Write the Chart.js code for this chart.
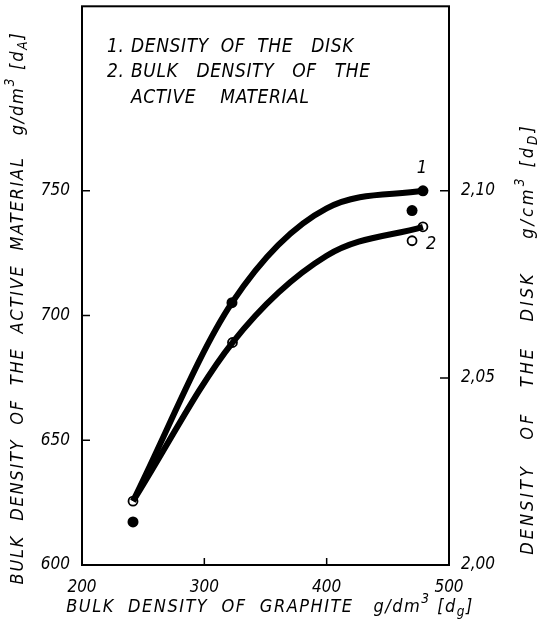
<!DOCTYPE html>
<html>
<head>
<meta charset="utf-8">
<script src="https://cdn.jsdelivr.net/npm/chart.js@4.4.1/dist/chart.umd.min.js"></script>
<style>
  html, body { margin: 0; padding: 0; background: #fff; }
  #wrap { width: 542px; height: 635px; position: relative; }
</style>
</head>
<body>
<div id="wrap"><canvas id="densityChart"></canvas></div>
<script>
// Bulk density of graphite [g/dm3] on the x axis
const xTicks = [200, 300, 400, 500];
const leftTicks = [600, 650, 700, 750];
const rightTicks = [2.00, 2.05, 2.10];

// 1. density of the disk (g/cm3, right axis) - measured points
const diskX = [241.7, 322.6, 469.8, 478.7];
const diskY = [2.0115, 2.0701, 2.0947, 2.1000];
// fitted curve through the disk points
const diskCurveX = [241.7, 322.6, 400, 478.7];
const diskCurveY = [2.0171, 2.0701, 2.0953, 2.1000];

// 2. bulk density of the active material (g/dm3, left axis) - measured points
const activeX = [241.7, 323, 469.8, 478.7];
const activeY = [625.6, 689.2, 730, 735.6];
// fitted curve through the active material points
const activeCurveX = [241.7, 323, 400, 478.7];
const activeCurveY = [625.6, 689.2, 724, 735.6];

const legendNumbers = ['1.', '2.', ''];
const legendLines = ['DENSITY  OF  THE   DISK', 'BULK   DENSITY   OF   THE', 'ACTIVE    MATERIAL'];

const FONT = '"Liberation Sans Narrow", "DejaVu Sans Condensed", sans-serif';

function pts(xs, ys) {
    return xs.map((x, i) => ({ x: x, y: ys[i] }));
}

function fixTicks(values) {
    return function(scale) {
        scale.ticks = values.map(v => ({ value: v }));
    };
}

// draws a line of text with superscript / subscript pieces, centred on x
function richText(ctx, parts, x, y, size, spacing) {
    ctx.letterSpacing = spacing + 'px';
    let total = 0;
    parts.forEach(p => {
        ctx.font = 'italic ' + (p.sup || p.sub ? size * 0.75 : size) + 'px ' + FONT;
        total += ctx.measureText(p.t).width;
    });
    let cx = x - total / 2;
    parts.forEach(p => {
        const s = p.sup || p.sub ? size * 0.75 : size;
        ctx.font = 'italic ' + s + 'px ' + FONT;
        let dy = 0;
        if (p.sup) dy = -size * 0.4;
        if (p.sub) dy = size * 0.3;
        ctx.fillText(p.t, cx, y + dy);
        cx += ctx.measureText(p.t).width;
    });
    ctx.letterSpacing = '0px';
}

const bottomTitle = [{ t: 'BULK  DENSITY  OF  GRAPHITE   g/dm' }, { t: '3', sup: true }, { t: ' [d' }, { t: 'g', sub: true }, { t: ']' }];
const leftTitle = [{ t: 'BULK  DENSITY  OF  THE  ACTIVE  MATERIAL   g/dm' }, { t: '3', sup: true }, { t: ' [d' }, { t: 'A', sub: true }, { t: ']' }];
const rightTitle = [{ t: 'DENSITY   OF   THE   DISK    g/cm' }, { t: '3', sup: true }, { t: ' [d' }, { t: 'D', sub: true }, { t: ']' }];

const decorations = {
    id: 'decorations',
    afterDraw(chart) {
        const ctx = chart.ctx;
        const a = chart.chartArea;
        const sx = chart.scales.x, sy = chart.scales.y, sy2 = chart.scales.y2;
        ctx.save();
        ctx.strokeStyle = '#000';
        ctx.fillStyle = '#000';

        // frame
        ctx.lineWidth = 2;
        ctx.strokeRect(a.left, a.top, a.right - a.left, a.bottom - a.top);

        // inward tick marks
        ctx.lineWidth = 1.5;
        ctx.beginPath();
        xTicks.forEach(v => {
            const px = sx.getPixelForValue(v);
            ctx.moveTo(px, a.bottom); ctx.lineTo(px, a.bottom - 7);
        });
        leftTicks.forEach(v => {
            const py = sy.getPixelForValue(v);
            ctx.moveTo(a.left, py); ctx.lineTo(a.left + 8, py);
        });
        rightTicks.forEach(v => {
            const py = sy2.getPixelForValue(v);
            ctx.moveTo(a.right, py); ctx.lineTo(a.right - 9, py);
        });
        ctx.stroke();

        // curve numbers
        ctx.font = 'italic 18px ' + FONT;
        ctx.textAlign = 'center';
        ctx.textBaseline = 'middle';
        const n = diskX.length - 1;
        ctx.fillText('1', sx.getPixelForValue(diskX[n]) - 1, sy2.getPixelForValue(diskY[n]) - 22);
        const m = activeX.length - 2;
        ctx.fillText('2', sx.getPixelForValue(activeX[m]) + 19, sy.getPixelForValue(activeY[m]) + 4);

        // legend text
        ctx.textAlign = 'left';
        ctx.font = 'italic 19px ' + FONT;
        ctx.letterSpacing = '0.6px';
        legendLines.forEach((line, i) => {
            const y = 47 + i * 25.5;
            ctx.fillText(legendNumbers[i], 107, y);
            ctx.fillText(line, 131, y);
        });
        ctx.letterSpacing = '0px';

        // axis titles
        richText(ctx, bottomTitle, 270, 607, 18, 1.5);

        ctx.save();
        ctx.translate(18, 308);
        ctx.rotate(-Math.PI / 2);
        richText(ctx, leftTitle, 0, 0, 18, 1.8);
        ctx.restore();

        ctx.save();
        ctx.translate(528, 339);
        ctx.rotate(-Math.PI / 2);
        richText(ctx, rightTitle, 0, 0, 18, 3);
        ctx.restore();

        ctx.restore();
    }
};

const tickFont = { family: FONT, size: 17, style: 'italic' };

// keep the plot frame where the layout puts it, no extra label padding
function noPad(size, key) {
    return function(s) {
        s[key] = size;
        s.paddingTop = 0; s.paddingBottom = 0;
        s.paddingLeft = 0; s.paddingRight = 0;
    };
}

new Chart(document.getElementById('densityChart'), {
    type: 'line',
    data: {
        datasets: [
            {
                label: 'disk curve',
                data: pts(diskCurveX, diskCurveY),
                yAxisID: 'y2',
                borderColor: '#000',
                borderWidth: 6,
                cubicInterpolationMode: 'monotone',
                pointRadius: 0,
                fill: false
            },
            {
                label: 'active curve',
                data: pts(activeCurveX, activeCurveY),
                yAxisID: 'y',
                borderColor: '#000',
                borderWidth: 6,
                cubicInterpolationMode: 'monotone',
                pointRadius: 0,
                fill: false
            },
            {
                label: '1. Density of the disk',
                data: pts(diskX, diskY),
                yAxisID: 'y2',
                showLine: false,
                pointRadius: 5.5,
                pointBackgroundColor: '#000',
                pointBorderColor: '#000',
                pointBorderWidth: 0
            },
            {
                label: '2. Bulk density of the active material',
                data: pts(activeX, activeY),
                yAxisID: 'y',
                showLine: false,
                pointRadius: 4.5,
                pointBackgroundColor: '#fff',
                pointBorderColor: '#000',
                pointBorderWidth: 1.8
            }
        ]
    },
    options: {
        responsive: true,
        maintainAspectRatio: false,
        animation: false,
        layout: { padding: { top: 6, left: 0, right: 0, bottom: 0 } },
        plugins: {
            legend: { display: false },
            tooltip: { enabled: false }
        },
        scales: {
            x: {
                type: 'linear',
                min: 200,
                max: 500,
                afterBuildTicks: fixTicks(xTicks),
                afterFit: noPad(70, 'height'),
                grid: { display: false, drawTicks: false },
                border: { display: false },
                ticks: { font: tickFont, color: '#000', padding: 12, maxRotation: 0 }
            },
            y: {
                position: 'left',
                min: 600,
                max: 824,
                afterBuildTicks: fixTicks(leftTicks),
                afterFit: noPad(82, 'width'),
                grid: { display: false, drawTicks: false },
                border: { display: false },
                ticks: { font: tickFont, color: '#000', padding: 12 }
            },
            y2: {
                position: 'right',
                min: 2.00,
                max: 2.1493,
                afterBuildTicks: fixTicks(rightTicks),
                afterFit: noPad(93, 'width'),
                grid: { display: false, drawTicks: false },
                border: { display: false },
                ticks: {
                    font: tickFont, color: '#000', padding: 12,
                    callback: v => v.toFixed(2).replace('.', ',')
                }
            }
        }
    },
    plugins: [decorations]
});
</script>
</body>
</html>
